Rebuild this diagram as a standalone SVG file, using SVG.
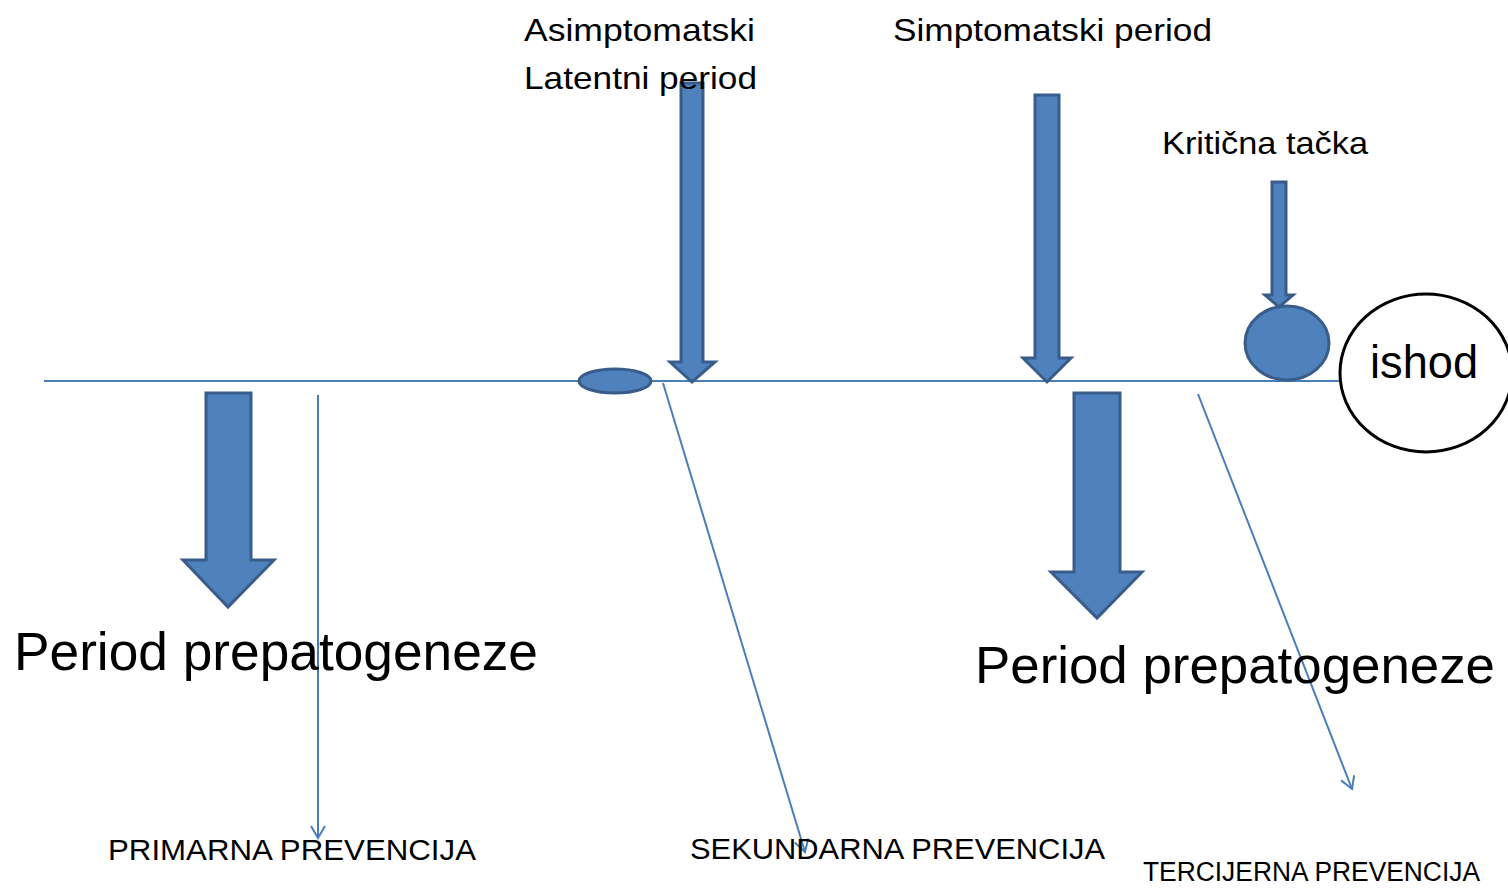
<svg xmlns="http://www.w3.org/2000/svg" width="1508" height="888" viewBox="0 0 1508 888">
<style>
.t{font-family:"Liberation Sans",Arial,sans-serif;fill:#000}
.blk{fill:#4F81BD;stroke:#385D8A;stroke-width:3;stroke-linejoin:miter}
.thin{fill:none;stroke:#4A7EBB;stroke-width:2}
</style>
<defs>
<marker id="open" markerWidth="16" markerHeight="16" refX="13" refY="8" orient="auto" markerUnits="userSpaceOnUse">
<path d="M1,1 L13,8 L1,15" fill="none" stroke="#4A7EBB" stroke-width="2"/>
</marker>
</defs>
<rect width="1508" height="888" fill="#fff"/>
<g id="timeline">
<line x1="44" y1="381" x2="1341" y2="381" class="thin"/>
</g>
<g id="latent-point">
<ellipse cx="615" cy="381" rx="36" ry="12" class="blk"/>
</g>
<g id="kriticna-point">
<ellipse cx="1287" cy="343" rx="42" ry="37" class="blk"/>
</g>
<g id="ishod">
<ellipse cx="1426" cy="373" rx="86" ry="79" fill="#fff" stroke="#000" stroke-width="3"/>
<text class="t" x="1370" y="378" font-size="46" textLength="108" lengthAdjust="spacingAndGlyphs">ishod</text>
</g>
<g id="block-arrows">
<path class="blk" d="M681,83 L703,83 L703,362 L715,362 L692,382 L670,362 L681,362 Z"/>
<path class="blk" d="M1035,95 L1059,95 L1059,358 L1071,358 L1047,382 L1023,358 L1035,358 Z"/>
<path class="blk" d="M1272,182 L1286,182 L1286,295 L1293,295 L1279,307 L1265,295 L1272,295 Z"/>
<path class="blk" d="M206,393 L251,393 L251,560 L274,560 L228,607 L183,560 L206,560 Z"/>
<path class="blk" d="M1074,393 L1120,393 L1120,572 L1142,572 L1097,618 L1051,572 L1074,572 Z"/>
</g>
<g id="connectors">
<line x1="318" y1="395" x2="318" y2="838" class="thin" marker-end="url(#open)"/>
<line x1="663" y1="383" x2="805" y2="852" class="thin" marker-end="url(#open)"/>
<line x1="1198" y1="394" x2="1352" y2="789" class="thin" marker-end="url(#open)"/>
</g>
<g id="labels">
<text class="t" x="524" y="41" font-size="32" textLength="231" lengthAdjust="spacingAndGlyphs">Asimptomatski</text>
<text class="t" x="524" y="89" font-size="32" textLength="233" lengthAdjust="spacingAndGlyphs">Latentni period</text>
<text class="t" x="893" y="41" font-size="32" textLength="319" lengthAdjust="spacingAndGlyphs">Simptomatski period</text>
<text class="t" x="1162" y="154" font-size="32" textLength="206" lengthAdjust="spacingAndGlyphs">Kritična tačka</text>
<text class="t" x="14" y="670" font-size="53" textLength="524" lengthAdjust="spacingAndGlyphs">Period prepatogeneze</text>
<text class="t" x="975" y="683" font-size="52" textLength="520" lengthAdjust="spacingAndGlyphs">Period prepatogeneze</text>
<text class="t" x="108" y="860" font-size="30" textLength="368" lengthAdjust="spacingAndGlyphs">PRIMARNA PREVENCIJA</text>
<text class="t" x="690" y="859" font-size="30" textLength="415" lengthAdjust="spacingAndGlyphs">SEKUNDARNA PREVENCIJA</text>
<text class="t" x="1143" y="881" font-size="27" textLength="337" lengthAdjust="spacingAndGlyphs">TERCIJERNA PREVENCIJA</text>
</g>
</svg>
